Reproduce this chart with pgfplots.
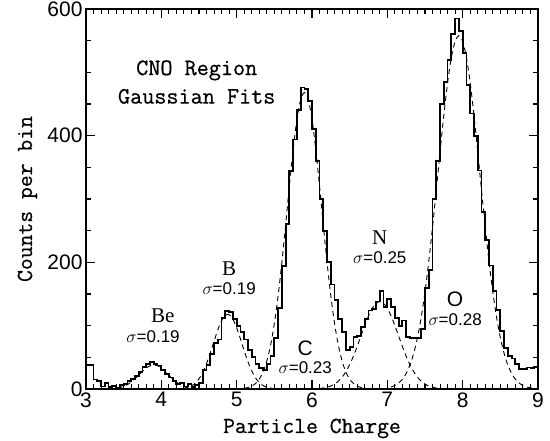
\documentclass[border=0pt]{standalone}
\usepackage{fontspec}
\usepackage{pgfplots}
\pgfplotsset{compat=1.18}
\newfontfamily\tickfont{Liberation Sans}
\newfontfamily\labfont{Latin Modern Mono}[FakeBold=0.6]
\newfontfamily\elfont{Liberation Serif}
\begin{document}
\begin{tikzpicture}
\useasboundingbox (-86pt,-52pt) rectangle (464pt,389pt);
\begin{axis}[
  at={(0pt,0pt)}, anchor=south west,
  scale only axis, width=452pt, height=380pt,
  xmin=3, xmax=9, ymin=0, ymax=600,
  xtick={3,4,5,6,7,8,9}, ytick={0,200,400,600},
  minor x tick num=9, minor y tick num=3,
  major tick length=9pt, minor tick length=5pt,
  axis line style={line width=1.4pt},
  every tick/.style={line width=1.1pt, black},
  tick label style={font=\tickfont\fontsize{21}{21}\selectfont},
  /pgf/number format/assume math mode=true,
  xlabel={Particle Charge}, ylabel={Counts per bin},
  label style={font=\labfont\fontsize{23}{23}\selectfont},
  xlabel style={at={([yshift=-44pt]axis description cs:0.5,0)}, anchor=base},
  ylabel style={at={([xshift=-54pt]axis description cs:0,0.5)}, anchor=base, rotate=0},
  clip=false,
]
% histogram
\addplot[const plot mark left, black, line width=1.8pt, mark=none] coordinates {
(3.00,38) (3.05,38) (3.10,15) (3.15,12) (3.20,4) (3.25,10) (3.30,3) (3.35,5) (3.40,2) (3.45,6)
(3.50,8) (3.55,12) (3.60,16) (3.65,20) (3.70,27) (3.75,35) (3.80,40) (3.85,43) (3.90,40) (3.95,37)
(4.00,30) (4.05,24) (4.10,18) (4.15,12) (4.20,8) (4.25,10) (4.30,4) (4.35,8) (4.40,3) (4.45,6)
(4.50,10) (4.55,30) (4.60,38) (4.65,55) (4.70,72) (4.75,78) (4.80,112) (4.85,123) (4.90,122) (4.95,110)
(5.00,100) (5.05,90) (5.10,78) (5.15,62) (5.20,50) (5.25,40) (5.30,33) (5.35,30) (5.40,40) (5.45,52)
(5.50,80) (5.55,128) (5.60,194) (5.65,260) (5.70,344) (5.75,394) (5.80,440) (5.85,476) (5.90,474) (5.95,455)
(6.00,410) (6.05,360) (6.10,300) (6.15,250) (6.20,200) (6.25,165) (6.30,140) (6.35,110) (6.40,90) (6.45,62)
(6.50,66) (6.55,82) (6.60,84) (6.65,98) (6.70,110) (6.75,124) (6.80,126) (6.85,138) (6.90,155) (6.95,130)
(7.00,142) (7.05,130) (7.10,112) (7.15,100) (7.20,108) (7.25,82) (7.30,80) (7.35,80) (7.40,80) (7.45,95)
(7.50,160) (7.55,188) (7.60,300) (7.65,360) (7.70,450) (7.75,485) (7.80,520) (7.85,560) (7.90,585) (7.95,565)
(8.00,530) (8.05,480) (8.10,435) (8.15,400) (8.20,345) (8.25,280) (8.30,235) (8.35,195) (8.40,155) (8.45,125)
(8.50,92) (8.55,65) (8.60,52) (8.65,48) (8.70,40) (8.75,32) (8.80,32) (8.85,34) (8.90,33) (8.95,35)
(9.00,35) (9.00,0)
};
% Gaussian fits
\addplot[smooth, black, line width=0.9pt, dash pattern=on 5pt off 4pt] coordinates {
(3.30,0.26) (3.35,0.57) (3.40,1.19) (3.45,2.30) (3.50,4.14) (3.55,6.97) (3.60,10.9) (3.65,16.0) (3.70,21.9) (3.75,27.8)
(3.80,33.1) (3.85,36.7) (3.90,38) (3.95,36.7) (4.00,33.1) (4.05,27.8) (4.10,21.9) (4.15,16.0) (4.20,10.9) (4.25,6.97)
(4.30,4.14) (4.35,2.30) (4.40,1.19) (4.45,0.57) (4.50,0.26)
};
\addplot[smooth, black, line width=0.9pt, dash pattern=on 5pt off 4pt] coordinates {
(4.28,0.8) (4.33,1.8) (4.38,3.7) (4.43,7.1) (4.48,12.9) (4.53,21.6) (4.58,33.9) (4.63,49.7) (4.68,67.9) (4.73,86.4)
(4.78,102.8) (4.83,114.0) (4.88,118) (4.93,114.0) (4.98,102.8) (5.03,86.4) (5.08,67.9) (5.13,49.7) (5.18,33.9) (5.23,21.6)
(5.28,12.9) (5.33,7.1) (5.38,3.7) (5.43,1.8) (5.48,0.8)
};
\addplot[smooth, black, line width=0.9pt, dash pattern=on 5pt off 4pt] coordinates {
(5.10,1.1) (5.15,2.3) (5.20,4.6) (5.25,8.6) (5.30,15.6) (5.35,26.8) (5.40,44.0) (5.45,69.0) (5.50,103.2) (5.55,147.0)
(5.60,199.9) (5.65,259.2) (5.70,320.7) (5.75,378.3) (5.80,425.8) (5.85,457.1) (5.90,468) (5.95,457.1) (6.00,425.8) (6.05,378.3)
(6.10,320.7) (6.15,259.2) (6.20,199.9) (6.25,147.0) (6.30,103.2) (6.35,69.0) (6.40,44.0) (6.45,26.8) (6.50,15.6) (6.55,8.6)
(6.60,4.6) (6.65,2.3) (6.70,1.1)
};
\addplot[smooth, black, line width=0.9pt, dash pattern=on 5pt off 4pt] coordinates {
(6.10,0.8) (6.15,1.5) (6.20,2.7) (6.25,4.7) (6.30,7.7) (6.35,12.3) (6.40,18.7) (6.45,27.3) (6.50,38.4) (6.55,51.8)
(6.60,67.2) (6.65,83.7) (6.70,100.2) (6.75,115.3) (6.80,127.4) (6.85,135.3) (6.90,138) (6.95,135.3) (7.00,127.4) (7.05,115.3)
(7.10,100.2) (7.15,83.7) (7.20,67.2) (7.25,51.8) (7.30,38.4) (7.35,27.3) (7.40,18.7) (7.45,12.3) (7.50,7.7) (7.55,4.7)
(7.60,2.7) (7.65,1.5) (7.70,0.8)
};
\addplot[smooth, black, line width=0.9pt, dash pattern=on 5pt off 4pt] coordinates {
(7.05,3.2) (7.10,5.6) (7.15,9.4) (7.20,15.4) (7.25,24.5) (7.30,37.7) (7.35,56.2) (7.40,81.1) (7.45,113.3) (7.50,153.4)
(7.55,201.1) (7.60,255.5) (7.65,314.3) (7.70,374.6) (7.75,432.3) (7.80,483.4) (7.85,523.5) (7.90,549.2) (7.95,558) (8.00,549.2)
(8.05,523.5) (8.10,483.4) (8.15,432.3) (8.20,374.6) (8.25,314.3) (8.30,255.5) (8.35,201.1) (8.40,153.4) (8.45,113.3) (8.50,81.1)
(8.55,56.2) (8.60,37.7) (8.65,24.5) (8.70,15.4) (8.75,9.4) (8.80,5.6) (8.85,3.2) (8.90,1.8) (8.95,0.9)
};
% annotations
\node[font=\labfont\fontsize{23.5}{23.5}\selectfont] at (axis cs:4.47,503) {CNO Region};
\node[font=\labfont\fontsize{23.5}{23.5}\selectfont] at (axis cs:4.47,462) {Gaussian Fits};
\node[font=\elfont\fontsize{21}{21}\selectfont] at (axis cs:4.02,115) {Be};
\node[font=\fontsize{17}{17}\selectfont] at (axis cs:3.89,83) {$\sigma$\tickfont=0.19};
\node[font=\elfont\fontsize{21}{21}\selectfont] at (axis cs:4.90,190) {B};
\node[font=\fontsize{17}{17}\selectfont] at (axis cs:4.90,158) {$\sigma$\tickfont=0.19};
\node[font=\tickfont\fontsize{21}{21}\selectfont] at (axis cs:5.91,65) {C};
\node[font=\fontsize{17}{17}\selectfont] at (axis cs:5.91,33) {$\sigma$\tickfont=0.23};
\node[font=\elfont\fontsize{21}{21}\selectfont] at (axis cs:6.90,239) {N};
\node[font=\fontsize{17}{17}\selectfont] at (axis cs:6.90,207) {$\sigma$\tickfont=0.25};
\node[font=\tickfont\fontsize{21}{21}\selectfont] at (axis cs:7.90,141) {O};
\node[font=\fontsize{17}{17}\selectfont] at (axis cs:7.90,110) {$\sigma$\tickfont=0.28};
\end{axis}
\end{tikzpicture}
\end{document}
